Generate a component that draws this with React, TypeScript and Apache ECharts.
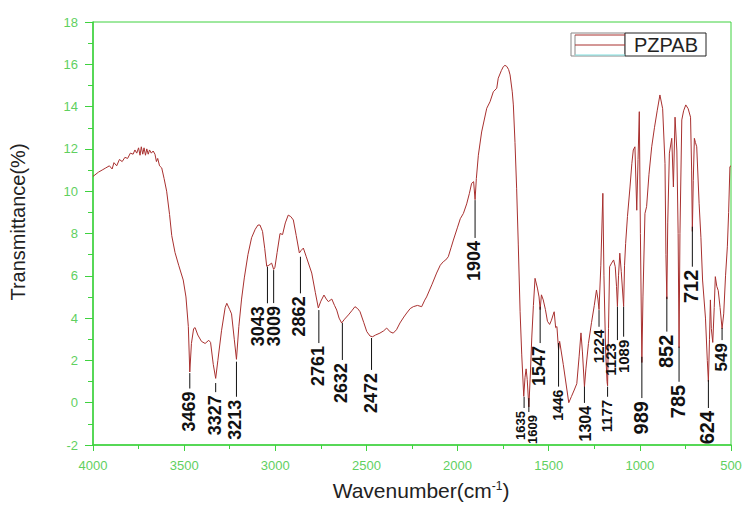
import React, { useEffect, useRef } from "react";
import * as echarts from "echarts";

// Spectrum: wavenumber (cm-1) and transmittance (%)
const wavenumbers = [
  4000, 3970, 3950, 3930, 3910, 3895, 3885, 3870, 3855, 3840, 3825, 3810, 3795, 3780, 3770, 3760,
  3750, 3742, 3735, 3727, 3720, 3712, 3705, 3697, 3690, 3680, 3670, 3660, 3652, 3645, 3635, 3623,
  3610, 3596, 3580, 3568, 3550, 3530, 3505, 3490, 3477, 3469, 3460, 3448, 3440, 3425, 3405, 3385,
  3365, 3355, 3340, 3327, 3315, 3295, 3275, 3266, 3250, 3240, 3225, 3213, 3200, 3185, 3170, 3150,
  3130, 3110, 3095, 3084, 3070, 3058, 3047, 3035, 3020, 3009, 3002, 2990, 2974, 2960, 2945, 2929,
  2915, 2901, 2885, 2868, 2858, 2846, 2830, 2800, 2780, 2764, 2750, 2733, 2720, 2709, 2690, 2675,
  2663, 2650, 2636, 2620, 2599, 2580, 2563, 2548, 2535, 2515, 2498, 2480, 2466, 2450, 2426, 2405,
  2389, 2370, 2353, 2335, 2316, 2295, 2279, 2260, 2243, 2220, 2197, 2180, 2170, 2140, 2115, 2095,
  2078, 2065, 2051, 2035, 2023, 2000, 1985, 1968, 1950, 1935, 1923, 1912, 1904, 1897, 1886, 1868,
  1840, 1822, 1804, 1785, 1777, 1760, 1749, 1740, 1730, 1720, 1712, 1700, 1694, 1685, 1676, 1667,
  1657, 1648, 1637, 1630, 1624, 1618, 1609, 1600, 1593, 1584, 1575, 1562, 1553, 1547, 1540, 1530,
  1518, 1507, 1495, 1485, 1476, 1470, 1462, 1455, 1446, 1440, 1420, 1400, 1390, 1375, 1360, 1346,
  1333, 1323, 1315, 1304, 1296, 1282, 1265, 1250, 1238, 1230, 1224, 1214, 1203, 1197, 1188, 1180,
  1177, 1172, 1166, 1155, 1144, 1135, 1128, 1123, 1117, 1110, 1102, 1089, 1084, 1078, 1068, 1054,
  1044, 1036, 1027, 1017, 1010, 1003, 997, 989, 983, 972, 963, 950, 935, 920, 905, 890,
  875, 862, 857, 852, 847, 838, 825, 816, 807, 797, 790, 785, 780, 770, 760, 748,
  735, 722, 716, 712, 707, 701, 695, 688, 675, 665, 656, 640, 630, 624, 618, 613,
  608, 600, 592, 586, 578, 570, 560, 549, 540, 530, 520, 513, 506, 500,
];
const transmittance = [
  10.7, 10.9, 11.0, 11.1, 11.2, 11.05, 11.35, 11.2, 11.5, 11.4, 11.6, 11.55, 11.8, 11.75, 11.95, 11.8,
  12.05, 11.7, 12.1, 11.75, 12.05, 11.7, 12.0, 11.75, 11.95, 11.8, 11.9, 11.75, 11.4, 11.55, 11.2, 11.1,
  10.6, 10.0, 8.9, 7.9, 7.1, 6.5, 5.8, 5.0, 3.6, 1.45, 2.8, 3.5, 3.55, 3.2, 2.9, 2.8,
  2.95, 2.85, 1.8, 1.15, 2.0, 3.4, 4.5, 4.7, 4.4, 4.2, 3.0, 2.05, 3.6, 4.9, 5.9, 7.0,
  7.8, 8.2, 8.4, 8.4, 8.1, 7.3, 6.45, 6.5, 6.6, 6.3, 6.4, 7.1, 8.0, 7.95, 8.5, 8.87,
  8.8, 8.64, 7.9, 7.08, 7.2, 7.31, 6.9, 6.13, 5.2, 4.48, 4.8, 5.09, 4.9, 4.78, 4.9, 4.6,
  4.38, 4.0, 3.77, 3.95, 4.15, 4.35, 4.54, 4.45, 4.3, 3.8, 3.36, 3.15, 3.12, 3.2, 3.29, 3.4,
  3.53, 3.35, 3.29, 3.45, 3.77, 4.05, 4.24, 4.45, 4.54, 4.6, 4.54, 4.85, 5.0, 5.6, 6.13, 6.5,
  6.67, 6.75, 6.9, 7.35, 7.69, 8.3, 8.7, 8.95, 9.4, 9.9, 10.37, 10.45, 9.6, 10.6, 11.7, 12.8,
  13.92, 14.23, 14.7, 14.87, 15.34, 15.7, 15.89, 15.95, 15.9, 15.75, 15.5, 14.7, 14.08, 12.3, 10.14, 7.5,
  4.3, 2.26, 0.3, 1.2, 1.6, 1.1, -0.2, 1.5, 3.06, 4.6, 5.88, 5.42, 5.0, 4.4, 5.1, 4.86,
  4.4, 3.85, 3.7, 3.9, 4.15, 4.3, 3.55, 3.6, 2.5, 2.9, 1.8, 0.6, 0.0, 0.3, 0.6, 0.9,
  2.2, 3.3, 2.4, 0.75, 1.6, 2.8, 3.8, 4.6, 5.33, 4.9, 4.4, 6.5, 9.9, 6.0, 2.5, 1.0,
  0.8, 3.5, 6.43, 6.6, 6.75, 6.43, 5.5, 4.55, 6.0, 7.07, 6.2, 4.55, 6.5, 7.53, 8.8, 10.2,
  11.3, 11.95, 12.1, 9.1, 11.5, 13.76, 8.0, 1.9, 5.0, 8.95, 9.27, 10.8, 12.1, 13.0, 13.8, 14.55,
  13.9, 11.3, 7.0, 4.9, 8.5, 11.8, 12.5, 10.2, 13.5, 11.9, 8.0, 2.6, 8.0, 13.37, 13.8, 14.08,
  13.9, 13.5, 11.0, 8.1, 10.5, 12.5, 12.3, 12.1, 9.43, 7.8, 5.8, 4.0, 2.0, 1.0, 3.0, 4.86,
  3.5, 2.85, 4.5, 5.96, 5.5, 5.3, 4.5, 3.5, 4.2, 6.0, 7.37, 9.0, 11.16, 11.2,
];

// Peak annotations: wavenumber, value at leader top, value at leader bottom
const peakLabels = [
  "3469", "3327", "3213", "3043", "3009", "2862", "2761", "2632", "2472", "1904",
  "1635", "1609", "1547", "1446", "1304", "1224", "1177", "1123", "1089", "989",
  "852", "785", "712", "624", "549",
];
const peakTop = [
  1.4, 0.93, 1.94, 6.43, 6.27, 6.9, 4.38, 3.77, 3.06, 9.58,
  0.28, 0.22, 4.54, 2.82, 0.76, 4.38, 0.76, 4.54, 4.54, 2.17,
  5.01, 2.65, 8.32, 1.07, 3.53,
];
const peakBottom = [
  0.67, 0.5, 0.28, 4.7, 4.71, 5.17, 2.82, 2.02, 1.55, 7.79,
  -0.25, -0.44, 2.82, 0.76, -0.01, 3.59, 0.28, 2.96, 3.12, 0.22,
  3.36, 0.99, 6.43, -0.25, 2.96,
];

const xTicks = { min: 500, max: 4000, interval: 500 };
const yTicks = { min: -2, max: 18, interval: 2 };
const seriesName = "PZPAB";

const FONT = "'Liberation Sans', Arial, Helvetica, sans-serif";
const AXIS_GREEN = "#3fd23f";
const LABEL_GREEN = "#5fd05f";
const CURVE = "#a8302f";

// label styling (font size and small horizontal nudge in px)
const labelFont: Record<string, number> = {
  "1635": 13, "1609": 13, "1446": 14, "1224": 15, "1177": 15, "1123": 15, "1089": 15,
  "1304": 16, "549": 17, "852": 20, "785": 20, "712": 20, "624": 20, "989": 20,
};
const labelShift: Record<string, number> = {
  "3043": -8, "3009": 1, "1635": -3, "1609": 5, "1123": -6, "1089": 1, "1304": 2,
};

export default function App() {
  const ref = useRef<HTMLDivElement>(null);
  useEffect(() => {
    if (!ref.current) return;
    const chart = echarts.init(ref.current, undefined, { renderer: "svg" });
    const lineData = wavenumbers.map((w, i) => [w, transmittance[i]]);
    const annData = peakLabels.map((l, i) => [Number(l), peakTop[i], peakBottom[i], i]);

    chart.setOption({
      animation: false,
      backgroundColor: "#fff",
      grid: {
        left: 93, right: 17, top: 22, bottom: 61,
        show: true, borderColor: AXIS_GREEN, borderWidth: 1, backgroundColor: "transparent",
      },
      xAxis: {
        type: "value", inverse: true,
        min: xTicks.min, max: xTicks.max, interval: xTicks.interval,
        axisLine: { show: true, onZero: false, lineStyle: { color: AXIS_GREEN, width: 1.5 } },
        axisTick: { show: true, length: 6, lineStyle: { color: AXIS_GREEN } },
        minorTick: { show: true, splitNumber: 2, length: 4, lineStyle: { color: AXIS_GREEN } },
        splitLine: { show: false },
        axisLabel: {
          color: LABEL_GREEN, fontSize: 13, fontFamily: FONT, margin: 14,
          formatter: (v: number) => String(v),
        },
      },
      yAxis: {
        type: "value",
        min: yTicks.min, max: yTicks.max, interval: yTicks.interval,
        axisLine: { show: true, onZero: false, lineStyle: { color: AXIS_GREEN, width: 1.5 } },
        axisTick: { show: true, length: 8, lineStyle: { color: AXIS_GREEN } },
        minorTick: { show: true, splitNumber: 2, length: 5, lineStyle: { color: AXIS_GREEN } },
        splitLine: { show: false },
        axisLabel: { color: LABEL_GREEN, fontSize: 13, fontFamily: FONT, margin: 15 },
      },
      series: [
        {
          name: seriesName,
          type: "line",
          data: lineData,
          showSymbol: false,
          symbol: "none",
          lineStyle: { color: CURVE, width: 1 },
          z: 3,
        },
        {
          type: "custom",
          data: annData,
          z: 4,
          renderItem: (params: any, api: any) => {
            const w = api.value(0);
            const top = api.coord([w, api.value(1)]);
            const bot = api.coord([w, api.value(2)]);
            const label = peakLabels[api.value(3)];
            const fs = labelFont[label] ?? 18;
            const dx = (labelShift[label] ?? 0) - 1;
            return {
              type: "group",
              children: [
                {
                  type: "line",
                  shape: { x1: top[0], y1: top[1], x2: bot[0], y2: bot[1] },
                  style: { stroke: "#111", lineWidth: 1 },
                },
                {
                  type: "text",
                  x: bot[0] + dx,
                  y: bot[1] + 3,
                  rotation: Math.PI / 2,
                  style: {
                    text: label, fontSize: fs, fontFamily: FONT, fontWeight: "bold",
                    fill: "#111", align: "right", verticalAlign: "middle",
                  },
                },
              ],
            };
          },
        },
      ],
      graphic: [
        {
          type: "text", x: 18, y: 222, rotation: Math.PI / 2,
          style: {
            text: "Transmittance(%)", fontSize: 20, fontFamily: FONT, fill: "#222",
            align: "center", verticalAlign: "middle",
          },
        },
        {
          type: "text", x: 421, y: 490,
          style: {
            text: "{a|Wavenumber(cm}{b|-1}{a|)}",
            fontFamily: FONT, fill: "#222", align: "center", verticalAlign: "middle",
            rich: {
              a: { fontSize: 21, fontFamily: FONT, fill: "#222" },
              b: { fontSize: 12, fontFamily: FONT, fill: "#222", verticalAlign: "top" },
            },
          },
        },
        // legend box
        { type: "rect", shape: { x: 571, y: 33, width: 54, height: 23 }, style: { fill: "#fff", stroke: "#888", lineWidth: 1 } },
        { type: "rect", shape: { x: 625, y: 33, width: 81, height: 23 }, style: { fill: "#fff", stroke: "#222", lineWidth: 1 } },
        { type: "line", shape: { x1: 575, y1: 35, x2: 575, y2: 55 }, style: { stroke: "#888", lineWidth: 1 } },
        { type: "line", shape: { x1: 575, y1: 35, x2: 625, y2: 35 }, style: { stroke: CURVE, lineWidth: 1 } },
        { type: "line", shape: { x1: 575, y1: 45, x2: 625, y2: 45 }, style: { stroke: CURVE, lineWidth: 1 } },
        { type: "line", shape: { x1: 575, y1: 55, x2: 625, y2: 55 }, style: { stroke: "#7fdede", lineWidth: 1 } },
        {
          type: "text", x: 666, y: 45,
          style: {
            text: seriesName, fontSize: 20, fontFamily: FONT, fill: "#222",
            align: "center", verticalAlign: "middle",
          },
        },
      ],
    });
    return () => chart.dispose();
  }, []);
  return <div ref={ref} style={{ width: 748, height: 506, position: "absolute", left: 0, top: 0 }} />;
}
